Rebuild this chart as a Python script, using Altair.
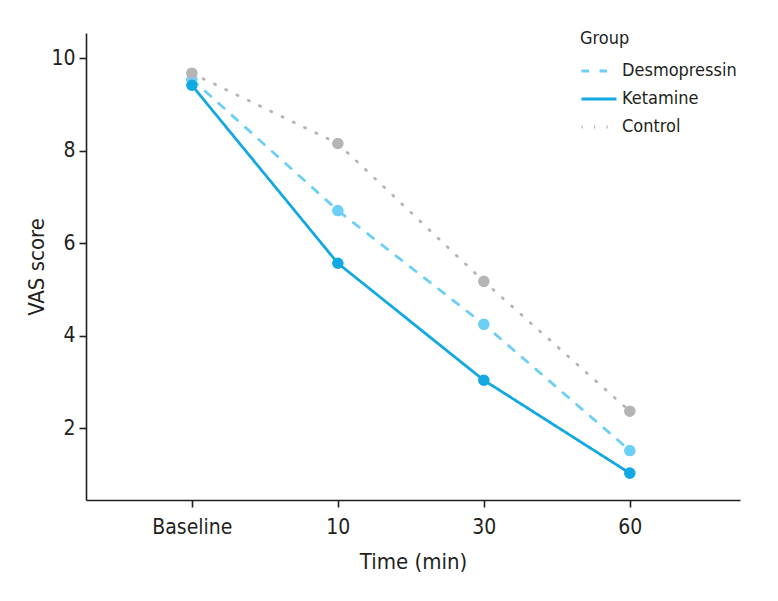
import altair as alt
import pandas as pd

times = ["Baseline", "10", "30", "60"]
groups = ["Desmopressin", "Ketamine", "Control"]
desmopressin = [9.55, 6.71, 4.25, 1.52]
ketamine = [9.42, 5.57, 3.04, 1.03]
control = [9.68, 8.16, 5.18, 2.37]
colors = ["#6ccff6", "#12a8e2", "#b5b5b7"]
dashes = [[7.5, 10.5], [1, 0], [1.2, 11.3]]
widths = [2.8, 2.8, 3.8]

rows = []
for g, vals in zip(groups, [desmopressin, ketamine, control]):
    for t, v in zip(times, vals):
        rows.append({"Time": t, "VAS": v, "Group": g})
df = pd.DataFrame(rows)

FONT = "DejaVu Sans Condensed, sans-serif"
TXT = "#231f20"

x = alt.X("Time:N", sort=times, title="Time (min)",
          scale=alt.Scale(type="point", padding=0.74, align=0.49),
          axis=alt.Axis(labelAngle=0, labelPadding=9, titlePadding=14))
y = alt.Y("VAS:Q", title="VAS score",
          scale=alt.Scale(domain=[0.45, 10.55], nice=False, zero=False),
          axis=alt.Axis(values=[2, 4, 6, 8, 10], labelPadding=4, titlePadding=2))
color = alt.Color("Group:N", scale=alt.Scale(domain=groups, range=colors),
                  legend=alt.Legend(title="Group", orient="none", legendX=494, legendY=-3,
                                    symbolType="stroke", symbolSize=1225,
                                    symbolStrokeWidth=3, labelFontSize=18,
                                    titleFontSize=18, titleFontWeight="normal",
                                    labelColor=TXT, titleColor=TXT, rowPadding=-8,
                                    labelOffset=4, titlePadding=4))
dash = alt.StrokeDash("Group:N", scale=alt.Scale(domain=groups, range=dashes), legend=None)
sw = alt.StrokeWidth("Group:N", scale=alt.Scale(domain=groups, range=widths), legend=None)

lines = alt.Chart(df).mark_line(strokeCap="round").encode(
    x=x, y=y, color=color, strokeDash=dash, strokeWidth=sw)
pts = alt.Chart(df).mark_circle(size=135, opacity=1).encode(
    x=x, y=y, color=alt.Color("Group:N", scale=alt.Scale(domain=groups, range=colors), legend=None))

chart = alt.layer(lines, pts).properties(
    width=654, height=467,
    autosize=alt.AutoSizeParams(type="none"),
    padding={"left": 78, "top": 25, "right": 30, "bottom": 80},
).configure_view(stroke=None).configure_axis(
    grid=False, domainColor="#231f20", tickColor="#231f20", domainWidth=1.6, tickWidth=1.6,
    tickSize=7, labelFont=FONT, titleFont=FONT, labelFontSize=21, titleFontSize=22,
    labelColor=TXT, titleColor=TXT, titleFontWeight="normal",
).configure_legend(labelFont=FONT, titleFont=FONT)

chart.save("out.html", embed_options={"renderer": "svg", "actions": False})
